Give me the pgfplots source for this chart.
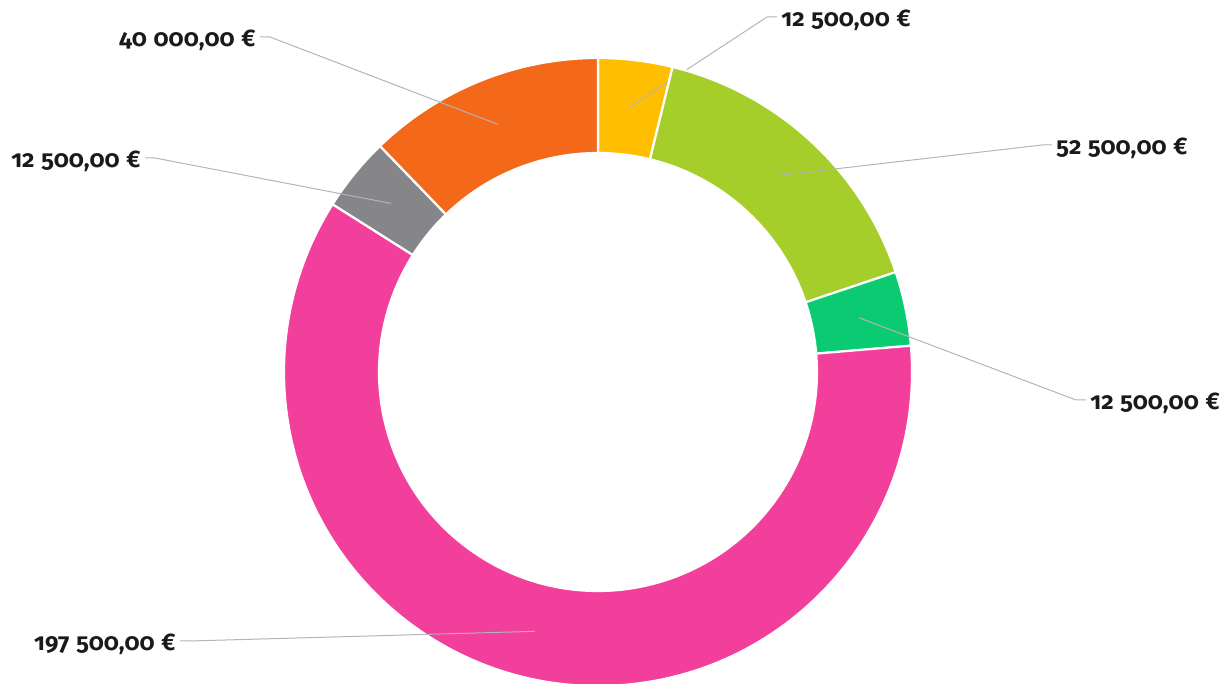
\documentclass[border=0pt]{standalone}
\usepackage{pgfplots}
\pgfplotsset{compat=1.18}
\usepackage{pgfplotstable}
\usepackage{fontspec}
\setmainfont{Fira Sans}[RawFeature=+onum]

\definecolor{c0}{HTML}{FFBF00}
\definecolor{c1}{HTML}{A6CE2A}
\definecolor{c2}{HTML}{0BCB72}
\definecolor{c3}{HTML}{F23F9B}
\definecolor{c4}{HTML}{85858A}
\definecolor{c5}{HTML}{F46819}
\definecolor{leader}{HTML}{B4B4B4}
\definecolor{txt}{HTML}{1A1A1A}

% slices clockwise from the top; ex/ey = elbow of the leader (pixels from top-left)
\pgfplotstableread{
value col ex   ey  side
12500  c0 767  17  1
52500  c1 1042 145 1
12500  c2 1076 400 1
197500 c3 190  641 -1
12500  c4 155  158 -1
40000  c5 270  37  -1
}\slices

\begin{document}
\begin{tikzpicture}
\useasboundingbox (0,0) rectangle (613pt,342pt);
\begin{axis}[
  at={(0,0)}, anchor=south west,
  x=0.5pt, y=0.5pt, scale only axis,
  xmin=0, xmax=1226, ymin=0, ymax=684,
  hide axis,
]
\pgfplotsextra{
  \pgfplotstablegetrowsof{\slices}
  \pgfmathtruncatemacro\N{\pgfplotsretval-1}
  \gdef\tot{0}
  \foreach \i in {0,...,\N}{
    \pgfplotstablegetelem{\i}{value}\of\slices
    \xdef\tot{\fpeval{\tot+\pgfplotsretval}}
  }
  \gdef\cum{0}
  \foreach \i in {0,...,\N}{
    \pgfplotstablegetelem{\i}{value}\of\slices \let\v\pgfplotsretval
    \pgfplotstablegetelem{\i}{col}\of\slices \let\c\pgfplotsretval
    \pgfplotstablegetelem{\i}{ex}\of\slices \let\ex\pgfplotsretval
    \pgfplotstablegetelem{\i}{ey}\of\slices \edef\ey{\fpeval{684-\pgfplotsretval}}
    \pgfplotstablegetelem{\i}{side}\of\slices \let\sd\pgfplotsretval
    \edef\aA{\fpeval{90-360*\cum/\tot}}
    \edef\aB{\fpeval{90-360*(\cum+\v)/\tot}}
    \edef\aM{\fpeval{(\aA+\aB)/2}}
    \xdef\cum{\fpeval{\cum+\v}}
    \fill[\c, draw=white, line width=1.1pt]
      (axis cs:598,312) ++(\aA:157pt) arc[start angle=\aA, end angle=\aB, radius=157pt]
      -- ++(\aB:-47.5pt) arc[start angle=\aB, end angle=\aA, radius=109.5pt] -- cycle;
    \draw[leader, line width=0.5pt]
      (axis cs:598,312) ++(\aM:133.5pt) -- (axis cs:\ex,\ey) -- ++({\sd*5pt},0);
    \edef\lx{\fpeval{\ex+\sd*14}}
    \edef\ly{\fpeval{\ey-10}}
    \ifnum\sd>0 \def\anc{base west}\else\def\anc{base east}\fi
    \node[anchor=\anc, inner sep=0pt, text=txt,
          font=\bfseries\fontsize{12}{14}\selectfont] at (axis cs:\lx,\ly)
      {\pgfmathprintnumber[fixed, fixed zerofill, precision=2, use comma,
        1000 sep={\kern0.28em}, assume math mode=true]{\v}\kern0.28em€};
  }
}
\end{axis}
\end{tikzpicture}
\end{document}
